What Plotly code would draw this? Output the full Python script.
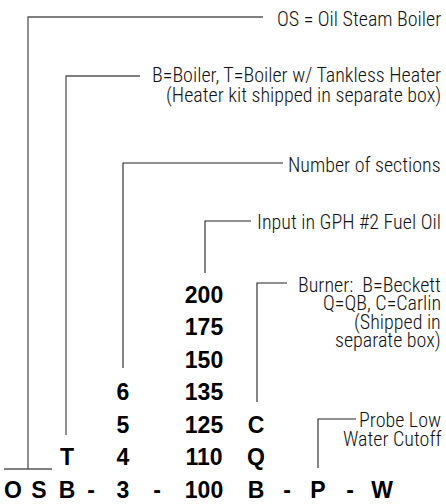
import plotly.graph_objects as go

# ---- data: model-number code parts ----
prefix_letters = ["O", "S"]
boiler_types = ["B", "T"]            # B=Boiler, T=Boiler w/ tankless heater
sections = ["3", "4", "5", "6"]
input_gph = ["100", "110", "125", "135", "150", "175", "200"]
burners = ["B", "Q", "C"]
probe_code = ["P"]
cutoff_code = ["W"]
separator = "-"

labels_os = ["OS = Oil Steam Boiler"]
labels_type = ["B=Boiler, T=Boiler w/ Tankless Heater", "(Heater kit shipped in separate box)"]
labels_sections = ["Number of sections"]
labels_input = ["Input in GPH #2 Fuel Oil"]
labels_burner = ["Burner:\u00a0\u00a0B=Beckett", "Q=QB, C=Carlin", "(Shipped in", "separate box)"]
labels_probe = ["Probe Low", "Water Cutoff"]

# ---- layout constants (pixel space) ----
W, H = 446, 504
ROW0, ROWSTEP = 492, 32.5
def row_y(i):
    return ROW0 - ROWSTEP * i

col_x = {"O": 13, "S": 39, "type": 67, "sep1": 91, "sec": 123, "sep2": 157,
         "gph": 204, "burn": 256, "sep3": 287, "probe": 318, "sep4": 350, "cut": 382}

BOLD = dict(family="Liberation Sans, Arial, sans-serif", size=23, color="black", weight="bold")
LIGHT = dict(family="Roboto Condensed, Liberation Sans Narrow, Roboto, sans-serif",
             size=20, color="#111", weight=300)
LINE_GRAY = dict(color="#555", width=1.3)
LINE = dict(color="#222", width=1.1)

fig = go.Figure()

def code_col(values, x):
    fig.add_trace(go.Scatter(
        x=[x] * len(values), y=[row_y(i) for i in range(len(values))],
        text=values, mode="text", textfont=BOLD, textposition="middle center",
        cliponaxis=False, hoverinfo="skip", showlegend=False))

code_col([prefix_letters[0]], col_x["O"])
code_col([prefix_letters[1]], col_x["S"])
code_col(boiler_types, col_x["type"])
code_col([separator], col_x["sep1"])
code_col(sections, col_x["sec"])
code_col([separator], col_x["sep2"])
code_col(input_gph, col_x["gph"])
code_col(burners, col_x["burn"])
code_col([separator], col_x["sep3"])
code_col(probe_code, col_x["probe"])
code_col([separator], col_x["sep4"])
code_col(cutoff_code, col_x["cut"])

def connector(xs, ys, line=LINE):
    fig.add_trace(go.Scatter(x=xs, y=ys, mode="lines", line=line, cliponaxis=False,
                             hoverinfo="skip", showlegend=False))

# OS bracket
connector([4, 52, None, 28, 28, 263], [469, 469, None, 469, 17, 17], LINE_GRAY)
# boiler type
connector([66, 66, 140], [435, 76, 76], LINE_GRAY)
# sections
connector([123, 123, 283], [368, 163, 163])
# input
connector([205, 205, 251], [273, 221, 221])
# burner
connector([257, 257, 287], [402, 283, 283])
# probe
connector([318, 318, 356], [468, 419, 419])

def label_block(lines, ys):
    for t, y in zip(lines, ys):
        fig.add_annotation(x=443, y=y, text=t, showarrow=False, xanchor="right",
                           yanchor="middle", font=LIGHT, xref="x", yref="y")

label_block(labels_os, [19])
label_block(labels_type, [75, 95])
label_block(labels_sections, [165])
label_block(labels_input, [222])
label_block(labels_burner, [285, 303, 322, 340])
label_block(labels_probe, [420, 439])

fig.update_layout(
    width=W, height=H, margin=dict(l=0, r=0, t=0, b=0),
    paper_bgcolor="white", plot_bgcolor="white",
    xaxis=dict(range=[0, W], visible=False, fixedrange=True),
    yaxis=dict(range=[H, 0], visible=False, fixedrange=True),
)
fig.write_html(
    "out.html",
    config={"displayModeBar": False, "staticPlot": True},
    post_script="document.body.style.margin='0';document.body.style.padding='0';"
                "document.body.style.overflow='hidden';",
)
